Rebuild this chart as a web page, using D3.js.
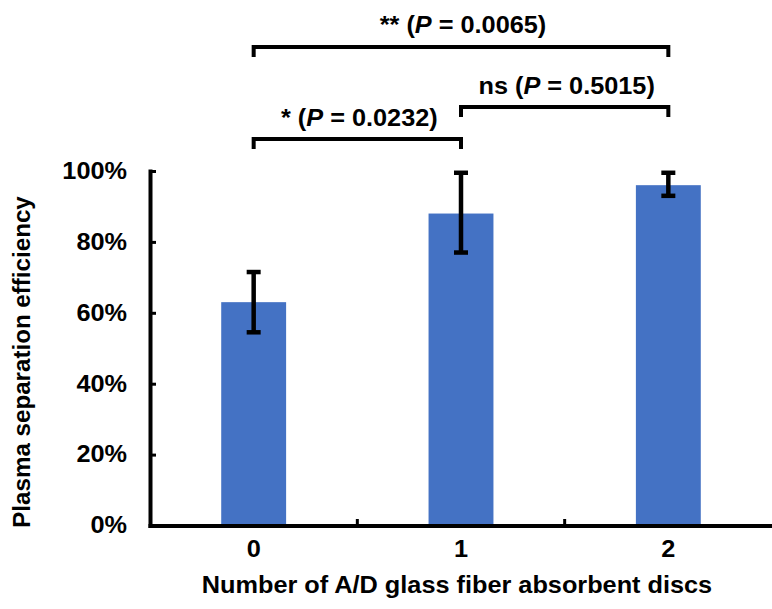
<!DOCTYPE html>
<html>
<head>
<meta charset="utf-8">
<script src="https://cdn.jsdelivr.net/npm/d3@7"></script>
<style>
  html, body { margin: 0; padding: 0; background: #fff; }
  svg text { font-family: "Liberation Sans", Arial, sans-serif; font-weight: bold; fill: #000; }
</style>
</head>
<body>
<svg id="chart" width="772" height="609"></svg>
<script>
// ---- data ----
const categories = ["0", "1", "2"];
const means = [0.63, 0.88, 0.96];
const upper = [0.715, 0.995, 0.995];
const lower = [0.545, 0.77, 0.93];
const yTicks = [0, 0.2, 0.4, 0.6, 0.8, 1.0];
const comparisons = [
  { from: "0", to: "1", stars: "*", p: "0.0232", level: 0 },
  { from: "1", to: "2", stars: "ns", p: "0.5015", level: 1 },
  { from: "0", to: "2", stars: "**", p: "0.0065", level: 2 }
];
const xTitle = "Number of A/D glass fiber absorbent discs";
const yTitle = "Plasma separation efficiency";

// ---- layout ----
const svg = d3.select("#chart");
const x = d3.scaleBand().domain(categories).range([150, 772]).padding(0);
const y = d3.scaleLinear().domain([0, 1]).range([525.5, 171]);
const barW = x.step() * 0.313;
const blue = "#4472C4";
const FS = 23;
const SX = 1.1;

// bars
svg.append("g").selectAll("rect").data(categories).join("rect")
  .attr("x", (d) => x(d) + x.bandwidth() / 2 - barW / 2)
  .attr("y", (d, i) => y(means[i]))
  .attr("width", barW)
  .attr("height", (d, i) => y(0) - y(means[i]))
  .attr("fill", blue);

// error bars
const eb = svg.append("g").attr("stroke", "#000").attr("stroke-width", 4.5);
categories.forEach((c, i) => {
  const cx = x(c) + x.bandwidth() / 2;
  eb.append("line").attr("x1", cx).attr("x2", cx).attr("y1", y(upper[i])).attr("y2", y(lower[i]));
  eb.append("line").attr("x1", cx - 7).attr("x2", cx + 7).attr("y1", y(upper[i])).attr("y2", y(upper[i]));
  eb.append("line").attr("x1", cx - 7).attr("x2", cx + 7).attr("y1", y(lower[i])).attr("y2", y(lower[i]));
});

// y axis
const yAxis = d3.axisLeft(y).tickValues(yTicks).tickFormat(d3.format(".0%"))
  .tickSizeInner(-6).tickSizeOuter(0).tickPadding(23);
const gy = svg.append("g").attr("transform", "translate(150,0)").call(yAxis);
gy.select(".domain").attr("stroke-width", 4).attr("stroke-linecap", "square");
gy.selectAll(".tick line").attr("stroke-width", 3);
gy.selectAll(".tick text").attr("font-size", FS).attr("font-family", null)
  .each(function () {
    const t = d3.select(this);
    const xx = +t.attr("x");
    t.attr("x", xx / SX).attr("transform", `scale(${SX},1)`);
  });

// x axis
const xAxis = d3.axisBottom(x).tickSize(0).tickPadding(0);
const gx = svg.append("g").attr("transform", "translate(0,525.5)").call(xAxis);
gx.select(".domain").attr("stroke-width", 4).attr("stroke-linecap", "square");
gx.selectAll(".tick").each(function (d) {
  const cx = x(d) + x.bandwidth() / 2;
  d3.select(this).attr("transform", `translate(${cx},0)`);
  d3.select(this).select("text").attr("x", 0).attr("y", 32).attr("dy", null)
    .attr("font-size", FS).attr("font-family", null)
    .attr("transform", `scale(${SX},1)`);
});
// boundary ticks between categories
svg.append("g").selectAll("line").data(categories.slice(1)).join("line")
  .attr("x1", (d) => x(d)).attr("x2", (d) => x(d))
  .attr("y1", 525.5).attr("y2", 519)
  .attr("stroke", "#000").attr("stroke-width", 3);

// axis titles
svg.append("text").attr("transform", `translate(457,593) scale(${SX},1)`)
  .attr("text-anchor", "middle").attr("font-size", FS).text(xTitle);
svg.append("text").attr("transform", `translate(30,362) rotate(-90) scale(1.05,1)`)
  .attr("text-anchor", "middle").attr("font-size", FS).text(yTitle);

// significance brackets
const bracketY = [139, 107, 47];
const textY = [126, 94, 33];
const ga = svg.append("g");
comparisons.forEach((cmp) => {
  const x1 = x(cmp.from) + x.bandwidth() / 2;
  const x2 = x(cmp.to) + x.bandwidth() / 2;
  const by = bracketY[cmp.level];
  ga.append("path")
    .attr("d", `M${x1},${by + 10}V${by}H${x2}V${by + 10}`)
    .attr("fill", "none").attr("stroke", "#000").attr("stroke-width", 4);
  const t = ga.append("text")
    .attr("transform", `translate(${(x1 + x2) / 2 + 2},${textY[cmp.level]}) scale(${SX},1)`)
    .attr("text-anchor", "middle").attr("font-size", FS);
  t.append("tspan").text(cmp.stars + " (");
  t.append("tspan").attr("font-style", "italic").text("P");
  t.append("tspan").text(" = " + cmp.p + ")");
});
</script>
</body>
</html>
